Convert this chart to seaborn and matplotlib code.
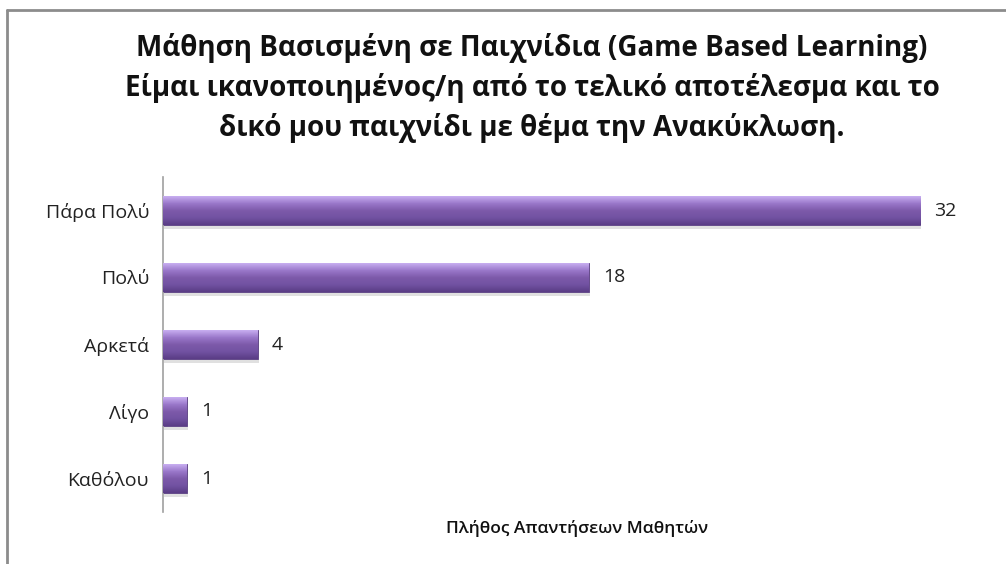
import numpy as np
import pandas as pd
import matplotlib
matplotlib.use("Agg")
import matplotlib.pyplot as plt
import seaborn as sns
from matplotlib.colors import LinearSegmentedColormap
from matplotlib.lines import Line2D

categories = ["Πάρα Πολύ", "Πολύ", "Αρκετά", "Λίγο", "Καθόλου"]
values = [32, 18, 4, 1, 1]
title_lines = [
    "Μάθηση Βασισμένη σε Παιχνίδια (Game Based Learning)",
    "Είμαι ικανοποιημένος/η από το τελικό αποτέλεσμα και το",
    "δικό μου παιχνίδι με θέμα την Ανακύκλωση.",
]
xlabel = "Πλήθος Απαντήσεων Μαθητών"

sns.set_theme(style="white")
plt.rcParams["font.family"] = ["Open Sans", "DejaVu Sans"]

df = pd.DataFrame({"cat": categories, "val": values})

W, H = 1006, 564
fig = plt.figure(figsize=(W / 100, H / 100), dpi=100)
ax = fig.add_axes([163 / W, 1 - 512 / H, (991 - 163) / W, (512 - 177) / H])

sns.barplot(data=df, y="cat", x="val", orient="h", color="#7A58A8",
            width=0.42, ax=ax, saturation=1)

# gradient shading on bars
cmap = LinearSegmentedColormap.from_list(
    "bar", ["#C8AEF0", "#9A78CA", "#7D5AAA", "#7252A2", "#5A3D86"])
grad = np.linspace(0, 1, 64).reshape(-1, 1)
for p in ax.patches:
    x0, y0 = p.get_x(), p.get_y()
    w, h = p.get_width(), p.get_height()
    sh = plt.Rectangle((x0 + 0.05, y0 + 0.07), w, h, color="#000000",
                       alpha=0.12, zorder=1, lw=0)
    ax.add_patch(sh)
    p.set_zorder(2)
    p.set_edgecolor("#5A3F82")
    p.set_linewidth(0.6)
    im = ax.imshow(grad, cmap=cmap, aspect="auto",
                   extent=(x0, x0 + w, y0 + h, y0), zorder=3,
                   interpolation="bilinear")
    im.set_clip_path(p)
    ax.text(x0 + w + 0.6, y0 + h / 2, f"{int(w)}", va="center", ha="left",
            fontsize=14, color="#222222")

ax.set_xlim(0, 35)
ax.set_ylim(4.5, -0.5)

ax.set_ylabel("")
ax.set_xlabel(xlabel, fontsize=12.5, fontweight="semibold", color="#111111",
              labelpad=6)
ax.set_xticks([])
ax.tick_params(axis="y", labelsize=14, colors="#222222", length=0, pad=10)
for s in ["top", "right", "bottom"]:
    ax.spines[s].set_visible(False)
ax.spines["left"].set_color("#A0A0A0")
ax.spines["left"].set_linewidth(1.2)

# title
for i, line in enumerate(title_lines):
    fig.text(532 / W, 1 - (48 + 40 * i) / H, line, ha="center", va="center",
             fontsize=20, fontweight="bold", color="#111111")

# frame lines (top and left)
fig.add_artist(Line2D([7 / W, 1], [1 - 10 / H, 1 - 10 / H],
                      transform=fig.transFigure, color="#8C8C8C", lw=2))
fig.add_artist(Line2D([7 / W, 7 / W], [0, 1 - 10 / H],
                      transform=fig.transFigure, color="#8C8C8C", lw=2))

fig.savefig("out.png", dpi=100, facecolor="white")
